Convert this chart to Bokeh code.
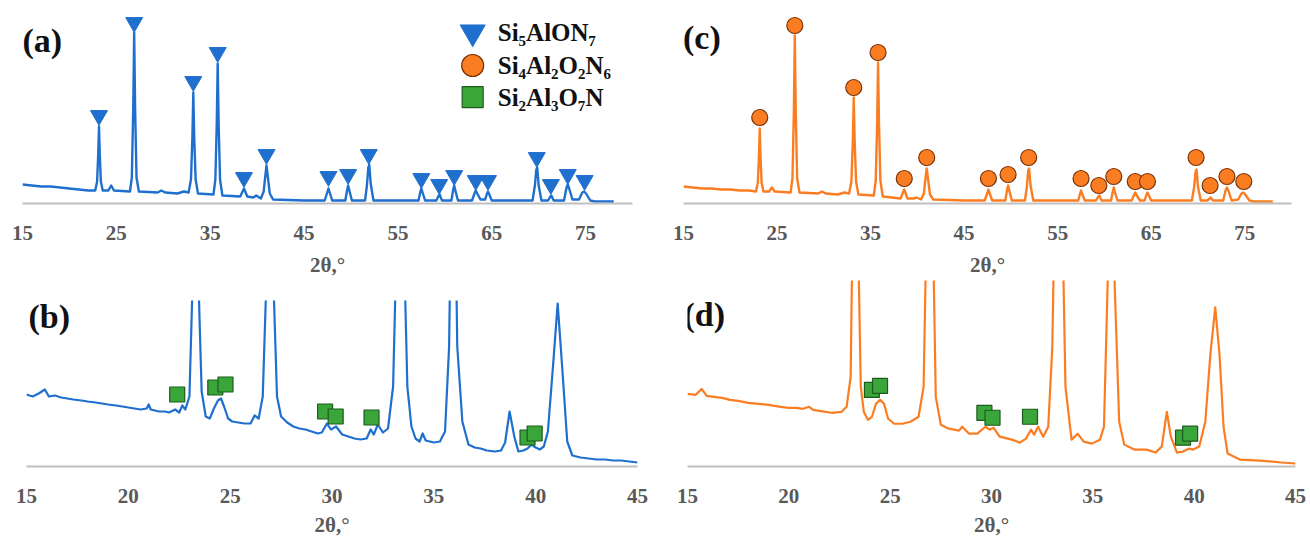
from bokeh.plotting import figure
from bokeh.layouts import column, row
from bokeh.models import FixedTicker, Label, Range1d
from bokeh.embed import file_html
from bokeh.resources import INLINE

# ---------------- data (2θ in degrees, intensity in arbitrary units) ----------------
top_ticks = [15, 25, 35, 45, 55, 65, 75]
bottom_ticks = [15, 20, 25, 30, 35, 40, 45]

# (a) full pattern, sample 1
a_theta = [15.0, 16.0, 17.0, 18.0, 19.0, 20.0, 21.0, 22.0, 22.75,
           22.95, 23.07, 23.15, 23.23, 23.35, 23.55,
           24.15, 24.45, 24.75,
           26.45, 26.65, 26.8, 26.9, 27.0, 27.15, 27.4,
           29.4, 29.8, 30.2, 31.5, 32.2, 32.7,
           32.95, 33.1, 33.2, 33.3, 33.45, 33.7,
           35.35, 35.55, 35.7, 35.8, 35.9, 36.05, 36.3,
           38.2, 38.6, 38.95, 39.6, 39.9, 40.4,
           40.7, 40.9, 41.0, 41.1, 41.35, 41.7,
           45.0, 47.2, 47.5, 47.6, 47.7, 48.0,
           49.4, 49.6, 49.7, 49.8, 50.1,
           51.5, 51.7, 51.85, 51.95, 52.1, 52.4,
           55.0, 57.2, 57.4, 57.5, 57.6, 57.9,
           59.1, 59.35, 59.45, 59.7,
           60.7, 60.9, 61.0, 61.1, 61.4,
           62.9, 63.2, 63.3, 63.4, 63.8,
           64.3, 64.5, 64.6, 64.7, 65.0,
           68.0, 69.35, 69.6, 69.75, 69.85, 70.0, 70.3,
           71.0, 71.25, 71.35, 71.6,
           72.7, 72.95, 73.1, 73.25, 73.6,
           74.3, 74.65, 74.85, 75.05, 75.5, 76.0, 78.0]
a_int = [19, 18, 17, 17, 16, 15, 14, 13, 13,
         22, 50, 77, 50, 22, 13,
         13, 18, 13,
         12, 26, 95, 171, 95, 26, 12,
         11, 13, 11, 10, 12, 11,
         24, 65, 111, 65, 24, 10,
         9, 24, 80, 140, 80, 24, 8,
         7, 15, 7, 6, 8, 5,
         12, 30, 38, 30, 10, 4,
         3, 3, 12, 15, 12, 3,
         3, 14, 18, 14, 3,
         3, 18, 36, 39, 20, 3,
         3, 3, 12, 15, 12, 3,
         3, 8, 9, 3,
         3, 14, 18, 14, 3,
         3, 11, 13, 11, 4,
         4, 10, 12, 10, 3,
         3, 3, 18, 34, 36, 18, 3,
         3, 7, 8, 3,
         3, 15, 19, 15, 4,
         4, 11, 12, 10, 3, 2, 2]
a_mark_theta = [23.15, 26.9, 33.2, 35.8, 38.6, 41.0, 47.6, 49.7, 51.9, 57.5, 59.4, 61.0,
                63.3, 64.6, 69.8, 71.3, 73.1, 74.9]
a_mark_int = [88, 181, 122, 151, 26, 49, 27, 29, 49, 25, 19, 28, 23, 23, 46, 19, 29, 23]

# (c) full pattern, sample 2
c_theta = a_theta
c_int = [17, 16, 15, 15, 14, 14, 13, 13, 12,
         21, 48, 75, 48, 21, 12,
         12, 16, 12,
         11, 25, 93, 168, 93, 25, 11,
         10, 12, 10, 9, 11, 10,
         22, 62, 106, 62, 22, 9,
         8, 23, 80, 141, 80, 23, 7,
         5, 14, 5, 5, 6, 4,
         10, 28, 35, 28, 9, 4,
         3, 3, 11, 14, 11, 3,
         3, 14, 18, 14, 3,
         3, 16, 33, 35, 18, 3,
         3, 3, 10, 13, 10, 3,
         3, 7, 8, 3,
         3, 12, 16, 12, 3,
         3, 9, 11, 9, 3,
         3, 9, 11, 9, 3,
         3, 3, 17, 32, 34, 17, 3,
         3, 5, 6, 3,
         3, 13, 16, 13, 3,
         4, 10, 11, 9, 3, 2, 2]
c_mark_theta = a_mark_theta
c_mark_int = [86, 178, 116, 151, 25, 46, 25, 29, 46, 25, 18, 27, 22, 22, 46, 18, 27, 22]

# (b) zoomed pattern 15-45, sample 1
b_theta = [15.0, 15.3, 15.6, 15.9, 16.1, 16.4, 16.7, 17.0, 17.3, 17.7, 18.0, 18.4, 18.7, 19.0,
           19.4, 19.7, 20.0, 20.3, 20.6, 20.9, 21.0, 21.1, 21.5, 21.8, 22.0, 22.3, 22.5, 22.65,
           22.8, 23.0, 23.15, 23.3, 23.45, 23.6, 23.8, 24.0, 24.2, 24.4, 24.55, 24.7, 24.9, 25.1,
           25.4, 25.7, 26.0, 26.2, 26.4, 26.6, 26.8, 26.95, 27.1, 27.3, 27.5, 27.8, 28.1, 28.4,
           28.7, 29.0, 29.3, 29.5, 29.75, 29.95, 30.2, 30.5, 30.8, 31.1, 31.4, 31.7, 31.9, 32.05,
           32.25, 32.5, 32.75, 33.0, 33.2, 33.35, 33.5, 33.7, 33.9, 34.1, 34.3, 34.45, 34.6, 35.0,
           35.3, 35.55, 35.75, 35.95, 36.15, 36.4, 36.7, 37.0, 37.3, 37.6, 38.0, 38.3, 38.5, 38.72,
           38.95, 39.15, 39.4, 39.6, 39.8, 40.0, 40.2, 40.4, 40.6, 40.85, 41.08, 41.3, 41.55, 41.8,
           42.2, 42.6, 43.0, 43.4, 43.8, 44.2, 44.6, 45.0]
b_int = [72, 70, 73, 77, 70, 71, 69, 68, 67, 66, 65, 64, 63, 62,
         61, 60, 59, 58, 57, 58, 62, 57, 55, 55, 54, 57, 54, 61,
         57, 70, 180, 400, 180, 75, 50, 48, 58, 66, 68, 60, 48, 45,
         44, 43, 43, 51, 48, 70, 200, 400, 200, 70, 50, 44, 40, 38,
         37, 35, 33, 34, 43, 37, 40, 32, 30, 28, 27, 28, 37, 32,
         42, 34, 38, 80, 250, 420, 250, 80, 40, 28, 25, 33, 26, 24,
         25, 35, 120, 420, 120, 45, 22, 19, 18, 16, 15, 16, 24, 55,
         30, 15, 16, 18, 22, 19, 17, 20, 35, 100, 163, 100, 25, 11,
         9, 8, 7, 7, 6, 6, 5, 4]
b_sq_theta = [22.4, 24.27, 24.77, 29.66, 30.18, 31.94, 39.6, 39.95]
b_sq_int = [72, 79, 82, 55, 50, 49, 29, 33]

# (d) zoomed pattern 15-45, sample 2
d_theta = [15.0, 15.4, 15.7, 15.95, 16.3, 16.7, 17.1, 17.5, 18.0, 18.5, 19.0, 19.6, 20.0, 20.4,
           20.7, 21.0, 21.2, 21.5, 22.1, 22.6, 22.85, 23.05, 23.15, 23.28, 23.4, 23.55, 23.7, 23.9,
           24.1, 24.3, 24.5, 24.7, 24.9, 25.2, 25.6, 26.0, 26.4, 26.65, 26.8, 26.95, 27.1, 27.25,
           27.5, 27.9, 28.4, 28.55, 28.9, 29.3, 29.7, 29.9, 30.1, 30.4, 31.0, 31.4, 31.7, 31.95,
           32.1, 32.3, 32.55, 32.8, 33.0, 33.15, 33.3, 33.45, 33.65, 33.95, 34.25, 34.55, 34.95, 35.35,
           35.55, 35.75, 35.9, 36.05, 36.3, 36.55, 37.05, 37.65, 38.1, 38.4, 38.65, 38.85, 39.15, 39.45,
           39.75, 39.95, 40.25, 40.55, 40.8, 41.04, 41.25, 41.45, 41.65, 42.25, 43.25, 44.3, 45.0]
d_int = [73, 72, 78, 71, 70, 69, 67, 66, 64, 63, 62, 60, 59, 59,
         58, 60, 57, 56, 54, 55, 60, 90, 250, 400, 250, 80, 55, 47,
         50, 63, 67, 63, 48, 43, 43, 45, 50, 80, 250, 420, 250, 70,
         42, 38, 36, 40, 33, 33, 40, 37, 39, 30, 27, 24, 28, 37,
         32, 40, 30, 40, 120, 300, 420, 300, 80, 27, 33, 25, 23, 27,
         40, 200, 420, 200, 45, 22, 17, 17, 14, 20, 55, 30, 14, 15,
         18, 17, 20, 45, 113, 160, 113, 40, 13, 7, 6, 4, 3]
d_sq_theta = [24.1, 24.5, 29.65, 30.05, 31.9, 39.45, 39.8]
d_sq_int = [77, 81, 54, 49, 50, 29, 33]

legend_labels = ["Si₅AlON₇", "Si₄Al₂O₂N₆", "Si₂Al₃O₇N"]
panel_tags = ["(a)", "(b)", "(c)", "(d)"]

# ---------------- styling ----------------
SERIF = "Liberation Serif"
AXIS_FONT = "'Liberation Serif', serif"
BLUE = "#1f6fcf"
ORANGE = "#fb7d22"
GREEN = "#3aa63a"
GREEN_EDGE = "#1d5a1d"
CIRCLE_EDGE = "#7a3208"
GREY_TXT = "#595959"


def make_fig(width, height, xr, yr, ticks, bl, br, bt, bb, label_standoff):
    p = figure(width=width, height=height, title=None,
               x_range=Range1d(*xr), y_range=Range1d(*yr),
               output_backend="svg", toolbar_location=None, y_axis_location=None,
               min_border_left=bl, min_border_right=br, min_border_top=bt, min_border_bottom=bb)
    p.outline_line_color = None
    p.xgrid.visible = False
    p.ygrid.visible = False
    p.background_fill_color = "white"
    p.border_fill_color = "white"
    ax = p.xaxis[0]
    ax.ticker = FixedTicker(ticks=ticks)
    ax.axis_line_color = "#c0c0c0"
    ax.axis_line_width = 2
    ax.major_tick_line_color = None
    ax.minor_tick_line_color = None
    ax.major_tick_out = 0
    ax.major_tick_in = 0
    ax.major_label_text_font = AXIS_FONT
    ax.major_label_text_font_size = "21px"
    ax.major_label_text_font_style = "bold"
    ax.major_label_text_color = GREY_TXT
    ax.major_label_standoff = 22
    ax.axis_label = "2θ,°"
    ax.axis_label_text_font = AXIS_FONT
    ax.axis_label_text_font_size = "21px"
    ax.axis_label_text_font_style = "bold"
    ax.axis_label_text_color = GREY_TXT
    ax.axis_label_standoff = label_standoff
    return p


def tag(p, x, y, text):
    p.add_layout(Label(x=x, y=y, text=text, text_font=SERIF, text_font_size="34px",
                       text_font_style="bold", text_color="#111111",
                       text_baseline="middle", text_align="left"))


# (a)
pa = make_fig(660, 280, (15, 80), (0, 191), top_ticks, 22, 28, 12, 77, 10)
pa.line(a_theta, a_int, line_width=2.4, color=BLUE, line_join="round")
pa.scatter(a_mark_theta, a_mark_int, marker="inverted_triangle", size=17,
           fill_color=BLUE, line_color=BLUE)
tag(pa, 15.0, 163, panel_tags[0])
# legend
pa.scatter([62.97], [171.3], marker="inverted_triangle", size=25, fill_color=BLUE, line_color=BLUE)
pa.scatter([62.97], [138.0], marker="circle", size=22, fill_color=ORANGE,
           line_color=CIRCLE_EDGE, line_width=1.2)
pa.scatter([62.97], [106.3], marker="square", size=21, fill_color=GREEN,
           line_color=GREEN_EDGE, line_width=1.2)
for yy, lab in zip([171.3, 138.0, 106.3], legend_labels):
    pa.add_layout(Label(x=65.64, y=yy, text=lab, text_font=SERIF, text_font_size="25px",
                        text_font_style="bold", text_color="#111111",
                        text_baseline="middle", text_align="left"))

# (c)
pc = make_fig(650, 280, (15, 80), (0, 191), top_ticks, 23, 19, 12, 77, 10)
pc.line(c_theta, c_int, line_width=2.4, color=ORANGE, line_join="round")
pc.scatter(c_mark_theta, c_mark_int, marker="circle", size=16, fill_color=ORANGE,
           line_color=CIRCLE_EDGE, line_width=1.2)
tag(pc, 14.95, 166, panel_tags[2])

# (b)
pb = make_fig(660, 260, (15, 45), (0, 166), bottom_ticks, 26, 23, 20, 74, 7)
pb.line(b_theta, b_int, line_width=2.2, color=BLUE, line_join="round")
pb.scatter(b_sq_theta, b_sq_int, marker="square", size=15, fill_color=GREEN,
           line_color=GREEN_EDGE, line_width=1.2)
tag(pb, 15.1, 150, panel_tags[1])

# (d)
pd_ = make_fig(650, 260, (15, 45), (0, 187), bottom_ticks, 27, 15, 0, 74, 7)
pd_.line(d_theta, d_int, line_width=2.2, color=ORANGE, line_join="round")
pd_.scatter(d_sq_theta, d_sq_int, marker="square", size=15, fill_color=GREEN,
            line_color=GREEN_EDGE, line_width=1.2)
tag(pd_, 14.8, 153, panel_tags[3])

layout = column(row(column(pa), column(pc)), row(column(pb), column(pd_)))
open("out.html", "w").write(file_html(layout, INLINE))
